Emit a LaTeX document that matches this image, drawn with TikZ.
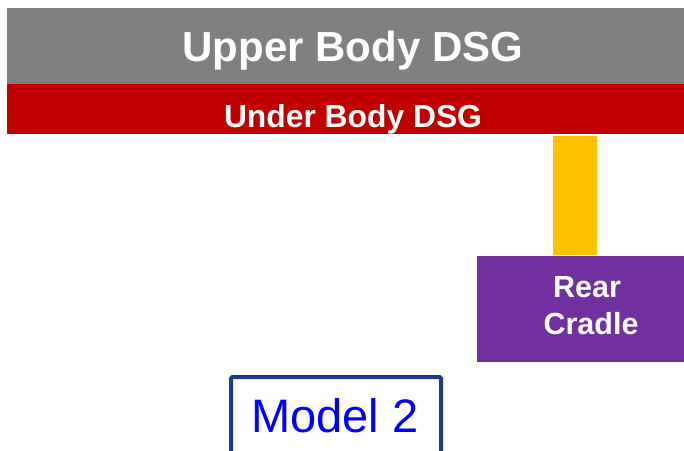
\documentclass[tikz,border=0pt]{standalone}
\usepackage{fontspec}
\setmainfont{Liberation Sans}
\definecolor{upgray}{HTML}{808080}
\definecolor{dsgred}{HTML}{C00000}
\definecolor{mountyellow}{HTML}{FFC000}
\definecolor{cradlepurple}{HTML}{7030A0}
\definecolor{modelnavy}{HTML}{1F3A84}
\definecolor{modelblue}{HTML}{0000FF}
\begin{document}
\begin{tikzpicture}[x=1pt,y=-1pt,
  block/.style={inner sep=0pt, outer sep=0pt, anchor=north west},
  whitebold/.style={text=white, font=\bfseries, inner sep=0pt, anchor=base}]
\useasboundingbox (0,0) rectangle (684,450);
\clip (0,0) rectangle (684,450);
% blocks
\node[block, fill=upgray, minimum width=677pt, minimum height=76pt] (upper) at (7,8) {};
\node[block, fill=dsgred, minimum width=677pt, minimum height=50pt] (under) at (7,84) {};
\node[block, fill=mountyellow, minimum width=44pt, minimum height=119pt] (mount) at (553,136) {};
\node[block, fill=cradlepurple, minimum width=207pt, minimum height=106pt] (cradle) at (477,256) {};
% texts
\node[whitebold, font=\fontsize{42}{42}\selectfont\bfseries] (uppertext) at (353,61) {Upper Body DSG};
\node[whitebold, font=\fontsize{31.8}{31.8}\selectfont\bfseries] (undertext) at (353,127) {Under Body DSG};
\node[whitebold, font=\fontsize{30.5}{30.5}\selectfont\bfseries] (reartext) at (587,297) {Rear};
\node[whitebold, font=\fontsize{30.5}{30.5}\selectfont\bfseries] (cradletext) at (591,334) {Cradle};
% model box
\node[block, draw=modelnavy, line width=4pt, rounded corners=1.5pt, minimum width=210pt, minimum height=120pt] (modelbox) at (231,377) {};
\node[text=modelblue, font=\fontsize{47}{47}\selectfont, inner sep=0pt, anchor=base] (modeltext) at (335,432) {Model 2};
\end{tikzpicture}
\end{document}
